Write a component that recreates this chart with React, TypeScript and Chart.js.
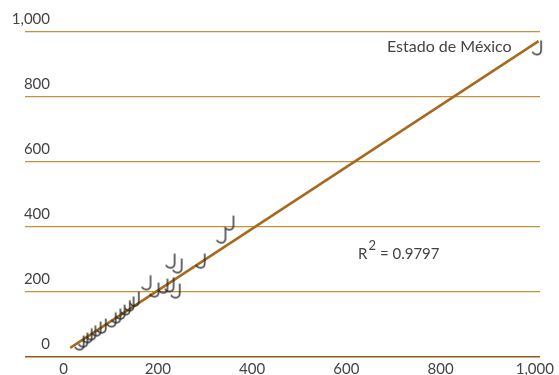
import React, { useEffect, useRef } from "react";
import { Chart, registerables } from "chart.js";

Chart.register(...registerables);

// Scatter points (x, y)
const pointX = [35, 43, 52, 60, 71, 82, 103, 113, 122, 133, 141, 152, 177, 194, 213, 226, 239, 228, 243, 292, 336, 353, 1006];
const pointY = [43, 52, 65, 74, 86, 95, 114, 126, 138, 151, 163, 178, 228, 206, 218, 222, 203, 295, 280, 295, 372, 412, 951];

// Trend line endpoints
const trendX = [14, 1008];
const trendY = [28, 972];

const xTicks = [0, 200, 400, 600, 800, 1000];
const yTicks = [0, 200, 400, 600, 800, 1000];

const highlightLabel = "Estado de México";
const r2Label = "0.9797";

const FONT = "Lato, 'Open Sans', sans-serif";
const TEXT = "#444444";

function fmt(v: number) {
  return v.toLocaleString("en-US");
}

function makeGlyph(): HTMLCanvasElement {
  const c = document.createElement("canvas");
  c.width = 13;
  c.height = 17;
  const g = c.getContext("2d")!;
  g.strokeStyle = "#2a2a2a";
  g.lineWidth = 1.4;
  g.lineCap = "round";
  g.beginPath();
  g.moveTo(10, 1.5);
  g.lineTo(10, 10.5);
  g.quadraticCurveTo(10, 15.2, 5.8, 15.2);
  g.quadraticCurveTo(2.8, 15.2, 1.5, 12.8);
  g.stroke();
  return c;
}

export default function App() {
  const ref = useRef<HTMLCanvasElement | null>(null);

  useEffect(() => {
    document.body.style.margin = "0";
    const canvas = ref.current!;
    const glyph = makeGlyph();

    const textPlugin = {
      id: "texts",
      afterDraw(chart: any) {
        const ctx = chart.ctx;
        const xs = chart.scales.x;
        const ys = chart.scales.y;
        ctx.save();
        ctx.fillStyle = TEXT;
        ctx.font = `15px ${FONT}`;
        ctx.textAlign = "right";
        ctx.textBaseline = "middle";
        yTicks.forEach((v) => {
          ctx.fillText(fmt(v), 50, ys.getPixelForValue(v) - 13);
        });
        // highlighted point label
        const last = pointX.length - 1;
        ctx.font = `16px ${FONT}`;
        ctx.textAlign = "right";
        ctx.fillText(highlightLabel, xs.getPixelForValue(pointX[last]) - 26, ys.getPixelForValue(pointY[last]) - 1);
        // R^2 label
        ctx.textAlign = "left";
        ctx.font = `15px ${FONT}`;
        const rx = xs.getPixelForValue(625);
        const ry = ys.getPixelForValue(316);
        ctx.fillText("R", rx, ry);
        const rw = ctx.measureText("R").width;
        ctx.font = `13px ${FONT}`;
        ctx.fillText("2", rx + rw + 1, ry - 8);
        const tw = ctx.measureText("2").width;
        ctx.font = `15px ${FONT}`;
        ctx.fillText(" = " + r2Label, rx + rw + 1 + tw, ry);
        ctx.restore();
      },
    };

    const chart = new Chart(canvas, {
      type: "scatter",
      data: {
        datasets: [
          {
            type: "scatter",
            data: pointX.map((x, i) => ({ x, y: pointY[i] })),
            pointStyle: glyph as any,
            pointRadius: 6,
            clip: false,
          } as any,
          {
            type: "line",
            data: trendX.map((x, i) => ({ x, y: trendY[i] })),
            borderColor: "#A8691C",
            borderWidth: 2.5,
            pointRadius: 0,
            fill: false,
            clip: false,
          } as any,
        ],
      },
      options: {
        responsive: false,
        animation: false,
        layout: { padding: { left: 25, right: 19, top: 32, bottom: 0 } },
        plugins: { legend: { display: false }, tooltip: { enabled: false } },
        scales: {
          x: {
            type: "linear",
            min: -82,
            max: 1011,
            afterBuildTicks: (s: any) => {
              s.ticks = xTicks.map((v) => ({ value: v }));
            },
            afterFit: (s: any) => {
              s.height = 18;
            },
            grid: { display: false },
            border: { display: false },
            ticks: {
              padding: -5,
              color: TEXT,
              font: { family: FONT, size: 15 },
              callback: (v: any) => fmt(Number(v)),
              maxRotation: 0,
            },
          },
          y: {
            type: "linear",
            min: 0,
            max: 1000,
            afterBuildTicks: (s: any) => {
              s.ticks = yTicks.map((v) => ({ value: v }));
            },
            afterFit: (s: any) => {
              s.width = 0;
            },
            grid: {
              drawTicks: false,
              lineWidth: (c: any) => (c.tick && c.tick.value === 0 ? 1.5 : 1.2),
              color: (c: any) => (c.tick && c.tick.value === 0 ? "#8E5B1C" : "#C4913F"),
            },
            border: { display: false },
            ticks: { display: false },
          },
        },
      },
      plugins: [textPlugin],
    });
    return () => chart.destroy();
  }, []);

  return (
    <div style={{ position: "absolute", left: 0, top: 0, width: 559, height: 375 }}>
      <canvas ref={ref} width={559} height={375} />
    </div>
  );
}
